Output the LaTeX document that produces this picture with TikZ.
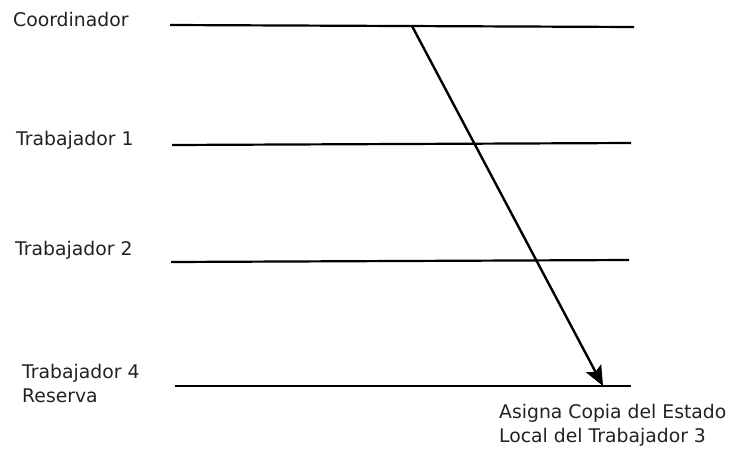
\documentclass[tikz,border=0pt]{standalone}
\usepackage{fontspec}
\setmainfont{DejaVu Sans}
\usetikzlibrary{arrows.meta}
\definecolor{LabelGrey}{HTML}{222222}

\begin{document}
\begin{tikzpicture}[x=1pt,y=-1pt,>={Stealth[length=20pt,width=17pt,inset=4pt]},every node/.style={font=\fontsize{18.8}{24}\selectfont,text=LabelGrey,inner sep=0pt},timeline/.style={line width=2.2pt,black}]
\useasboundingbox(0,0)rectangle(733,450);
\node[anchor=base west](lblCoord)at(13,26){Coordinador};\node[anchor=base west](lblTa)at(16,145){Trabajador 1};\node[anchor=base west](lblTb)at(15,255){Trabajador 2};
\node[anchor=base west,align=left](lblTd)at(22,402){Trabajador 4\\Reserva};\node[anchor=base west,align=left](lblCopy)at(499,442){Asigna Copia del Estado\\Local del Trabajador 3};
\coordinate(Cs)at(170,25);\coordinate(Ce)at(634,27);\coordinate(As)at(172,145);\coordinate(Ae)at(631,143);\coordinate(Bs)at(171,262);\coordinate(Be)at(629,260);\coordinate(Ds)at(175,386);\coordinate(De)at(631,386);
\draw[timeline](Cs)--(Ce);\draw[timeline](As)--(Ae);\draw[timeline](Bs)--(Be);\draw[timeline](Ds)--(De);
\coordinate(Msg)at(412,26);\coordinate(Dst)at(603,386);\draw[->,line width=2.4pt](Msg)--(Dst);
\end{tikzpicture}
\end{document}
